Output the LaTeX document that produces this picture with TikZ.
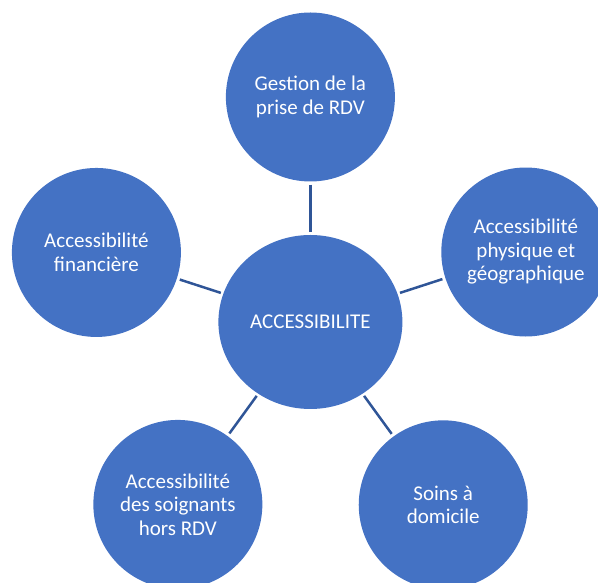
\documentclass[tikz,border=0pt]{standalone}
\usepackage{fontspec}
\setmainfont{Carlito}
\usetikzlibrary{shapes.geometric}
\definecolor{bubble}{HTML}{4472C4}
\definecolor{link}{HTML}{2F5597}
\begin{document}
\begin{tikzpicture}[x=1pt, y=1pt, main/.style = {circle, fill=bubble, minimum size=169pt, inner sep=0pt, text=white, align=center, font=\fontsize{21}{23.5}\selectfont}, hub/.style = {main, ellipse, minimum width=184pt, minimum height=174pt}, edge/.style = {link, line width=2.5pt, shorten <=3pt, shorten >=2.5pt}]
			\useasboundingbox (-310.4,-261) rectangle (287.6,322);
			\node[hub] (1) at (0,0) {ACCESSIBILITE};
			\node[main] (2) at (90:225) {Gestion de la\\prise de RDV};
			\node[main] (3) at (18:226.5) {Accessibilité\\physique et\\géographique};
			\node[main] (4) at (306:226) {Soins à\\domicile};
			\node[main] (5) at (234:225.5) {Accessibilité\\des soignants\\hors RDV};
			\node[main] (6) at (162:225) {Accessibilité\\financière};
			\draw[edge] (2) -- (1);
			\draw[edge] (3) -- (1);
			\draw[edge] (4) -- (1);
			\draw[edge] (5) -- (1);
			\draw[edge] (6) -- (1);
		\end{tikzpicture}
\end{document}
